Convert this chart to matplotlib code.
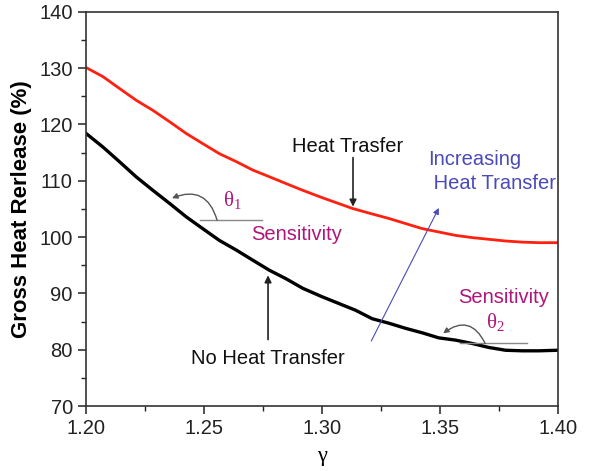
import numpy as np
import matplotlib
matplotlib.use('Agg')
import matplotlib.pyplot as plt
from matplotlib.ticker import MultipleLocator, FormatStrFormatter

plt.rcParams['font.family'] = ['Liberation Sans', 'DejaVu Sans']
plt.rcParams['mathtext.fontset'] = 'custom'
plt.rcParams['mathtext.rm'] = 'Liberation Serif'
plt.rcParams['mathtext.it'] = 'Liberation Serif'

# curves
gamma_heat = [1.2000, 1.2071, 1.2141, 1.2212, 1.2283, 1.2353, 1.2424, 1.2494,
              1.2565, 1.2636, 1.2706, 1.2777, 1.2847, 1.2918, 1.3000, 1.3127,
              1.3212, 1.3283, 1.3353, 1.3424, 1.3494, 1.3565, 1.3636, 1.3706,
              1.3777, 1.3847, 1.3918, 1.4000]
ghr_heat = [130.1, 128.5, 126.4, 124.3, 122.5, 120.5, 118.4, 116.6,
            114.8, 113.4, 111.9, 110.7, 109.5, 108.3, 107.0, 105.1,
            104.1, 103.3, 102.4, 101.5, 100.9, 100.3, 99.9, 99.6,
            99.3, 99.1, 99.0, 99.0]

gamma_noheat = [1.2000, 1.2071, 1.2141, 1.2212, 1.2283, 1.2353, 1.2424, 1.2494,
                1.2565, 1.2636, 1.2706, 1.2777, 1.2847, 1.2918, 1.3000, 1.3071,
                1.3142, 1.3212, 1.3283, 1.3353, 1.3424, 1.3494, 1.3565, 1.3636,
                1.3706, 1.3777, 1.3847, 1.3918, 1.4000]
ghr_noheat = [118.4, 116.0, 113.4, 110.7, 108.3, 106.0, 103.6, 101.5,
              99.4, 97.7, 95.9, 94.1, 92.6, 90.9, 89.4, 88.2,
              87.0, 85.5, 84.7, 83.8, 83.0, 82.1, 81.7, 81.1,
              80.4, 79.9, 79.8, 79.8, 79.9]

magenta = '#b0157a'
blue = '#4a4ab8'

fig = plt.figure(figsize=(6.06, 4.71), dpi=100)
ax = fig.add_axes([0.142, 0.138, 0.779, 0.837])

ax.plot(gamma_heat, ghr_heat, color='#ff2010', lw=2.0)
ax.plot(gamma_noheat, ghr_noheat, color='black', lw=2.4)

ax.set_xlim(1.20, 1.40)
ax.set_ylim(70, 140)
ax.xaxis.set_major_locator(MultipleLocator(0.05))
ax.xaxis.set_minor_locator(MultipleLocator(0.025))
ax.yaxis.set_major_locator(MultipleLocator(10))
ax.yaxis.set_minor_locator(MultipleLocator(5))
ax.xaxis.set_major_formatter(FormatStrFormatter('%.2f'))
ax.tick_params(which='major', direction='out', length=6, width=1.1, labelsize=14.5, colors='#222222')
ax.tick_params(which='minor', direction='out', length=3.5, width=1.0, colors='#222222')
ax.tick_params(top=False, right=False)
for s in ax.spines.values():
    s.set_linewidth(1.2)
    s.set_color('#333333')

ax.set_xlabel('γ', fontsize=16, family='Liberation Serif', labelpad=6)
ax.set_ylabel('Gross Heat Rerlease (%)', fontsize=16, fontweight='bold', labelpad=5)

# heat transfer label
ax.annotate('', xy=(1.3131, 104.9), xytext=(1.3131, 114.6),
            arrowprops=dict(arrowstyle='-|>', color='#222222', lw=1.2, mutation_scale=10))
ax.text(1.311, 116.1, 'Heat Trasfer', fontsize=14.5, ha='center', va='center', color='#111111')

# no heat transfer label
ax.annotate('', xy=(1.2771, 93.7), xytext=(1.2771, 81.3),
            arrowprops=dict(arrowstyle='-|>', color='#222222', lw=1.2, mutation_scale=10))
ax.text(1.2771, 78.4, 'No Heat Transfer', fontsize=14.5, ha='center', va='center', color='#111111')

# increasing heat transfer
ax.annotate('', xy=(1.350, 105.6), xytext=(1.3203, 81.1),
            arrowprops=dict(arrowstyle='-|>', color=blue, lw=0.8, mutation_scale=9))
ax.text(1.3449, 111.6, 'Increasing\n Heat Transfer', fontsize=14.5, ha='left', va='center',
        color=blue, linespacing=1.35)

# sensitivity 1
ax.plot([1.2483, 1.2746], [103.0, 103.0], color='#888888', lw=1.0)
ax.annotate('', xy=(1.2364, 106.9), xytext=(1.2555, 103.0),
            arrowprops=dict(arrowstyle='-|>', color='#555555', lw=1.0, mutation_scale=8,
                            connectionstyle='arc3,rad=0.55', shrinkA=0, shrinkB=0))
ax.text(1.2619, 106.6, r'$\mathrm{\theta_1}$', fontsize=15, color=magenta, ha='center', va='center')
ax.text(1.289, 100.5, 'Sensitivity', fontsize=14.5, color=magenta, ha='center', va='center')

# sensitivity 2
ax.plot([1.3585, 1.3869], [81.1, 81.1], color='#888888', lw=1.0)
ax.annotate('', xy=(1.3513, 82.9), xytext=(1.3691, 81.1),
            arrowprops=dict(arrowstyle='-|>', color='#555555', lw=1.0, mutation_scale=8,
                            connectionstyle='arc3,rad=0.6', shrinkA=0, shrinkB=0))
ax.text(1.3733, 84.9, r'$\mathrm{\theta_2}$', fontsize=15, color=magenta, ha='center', va='center')
ax.text(1.3771, 89.2, 'Sensitivity', fontsize=14.5, color=magenta, ha='center', va='center')

fig.savefig('out.png', dpi=100)
